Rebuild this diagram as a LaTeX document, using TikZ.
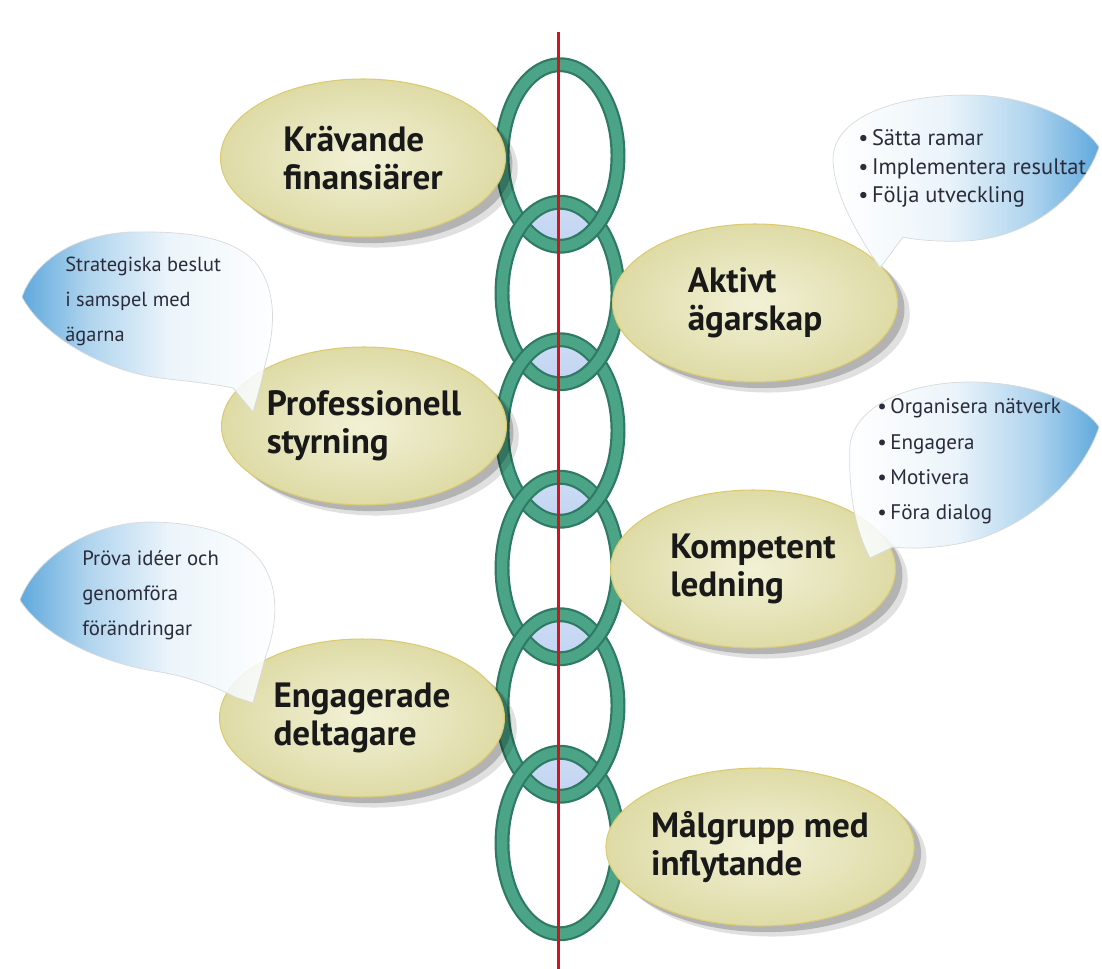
\documentclass[tikz,border=0pt]{standalone}
\usepackage{fontspec}
\setmainfont{PT Sans}
\usetikzlibrary{shapes.geometric,shadows}

\definecolor{ringgreen}{HTML}{4CA487}
\definecolor{ringdark}{HTML}{2E7A64}
\definecolor{chainred}{HTML}{D2141C}
\definecolor{lensblue}{HTML}{9BB9EA}
\definecolor{bubbleblue}{HTML}{4A9DD8}
\definecolor{pillowin}{HTML}{F2F1D6}
\definecolor{pillowout}{HTML}{DEDBA6}
\definecolor{pillowrim}{HTML}{DCCB6E}
\definecolor{notegray}{HTML}{2B2C3A}

\pgfdeclarehorizontalshading{bubbleleft}{100bp}{color(0bp)=(bubbleblue); color(25bp)=(bubbleblue); color(38bp)=(bubbleblue!50!white); color(54bp)=(bubbleblue!12!white); color(75bp)=(white); color(100bp)=(white)}
\pgfdeclarehorizontalshading{bubbleright}{100bp}{color(0bp)=(white); color(25bp)=(white); color(46bp)=(bubbleblue!12!white); color(62bp)=(bubbleblue!50!white); color(75bp)=(bubbleblue); color(100bp)=(bubbleblue)}

\tikzset{
	ringline/.style={line width=8.5pt, draw=ringdark},
	ringfill/.style={line width=6pt, draw=ringgreen},
	redline/.style={line width=1.7pt, draw=chainred},
	pillow/.style={ellipse, inner sep=0pt, minimum width=5.7cm, minimum height=3.16cm,
		inner color=pillowin, outer color=pillowout, draw=pillowrim, line width=.6pt,
		font=\fontsize{20}{21.5}\selectfont\bfseries, text=black!90, align=left,
		drop shadow={shadow xshift=7pt, shadow yshift=-6pt, opacity=.12, fill=black},
		drop shadow={shadow xshift=4pt, shadow yshift=-3.5pt, opacity=.2, fill=black}},
	bubble/.style={draw=black!15, line width=.4pt, fill opacity=.88},
	notetext/.style={anchor=base west, inner sep=0pt, text=notegray, font=\fontsize{12}{14}\selectfont}
}

\begin{document}
\begin{tikzpicture}[x=.02cm, y=-.02cm]
	\useasboundingbox (0,0) rectangle (1102,969);

	% lenses between the links
	\foreach \i in {0, 1, 2, 3, 4}
	{
		\pgfmathsetmacro\ya{155.5+137.5*\i}
		\pgfmathsetmacro\yb{\ya+137.5}
		\begin{scope}
			\clip (560,\ya) ellipse [x radius=1.16cm, y radius=1.815cm];
			\shade[top color=lensblue!50!white, bottom color=lensblue] (560,\yb) ellipse [x radius=1.16cm, y radius=1.815cm];
		\end{scope}
	}

	% chain
	\foreach \i in {0, 1, 2, 3, 4, 5}
	{
		\pgfmathsetmacro\yc{155.5+137.5*\i}
		\draw[ringline] (560,\yc) ellipse [x radius=1.16cm, y radius=1.815cm];
		\draw[ringfill] (560,\yc) ellipse [x radius=1.16cm, y radius=1.815cm];
	}
	\foreach \i in {0, 1, 2, 3, 4}
	{
		\pgfmathsetmacro\yc{155.5+137.5*\i}
		\draw[ringline] (560,\yc) ++(-75:1.16cm and 1.815cm) arc [start angle=-75, end angle=-25, x radius=1.16cm, y radius=1.815cm];
		\draw[ringfill] (560,\yc) ++(-76:1.16cm and 1.815cm) arc [start angle=-76, end angle=-24, x radius=1.16cm, y radius=1.815cm];
	}

	\coordinate (redtop) at (558.5,32);
	\coordinate (redbot) at (558.5,969);
	\draw[redline] (redtop) -- (redbot);

	% links
	\node[pillow] (kravande) at (363,158) {Krävande\\finansiärer};
	\node[pillow] (aktivt) at (755,303) {Aktivt\\ägarskap};
	\node[pillow] (professionell) at (364,426) {Professionell\\styrning};
	\node[pillow] (kompetent) at (753,569) {Kompetent\\ledning};
	\node[pillow] (engagerade) at (362,718) {Engagerade\\deltagare};
	\node[pillow, minimum width=5.76cm] (malgrupp) at (760,847) {Målgrupp med\\inflytande};

	% speech bubbles
	\shade[bubble, shading=bubbleright] (880,268) .. controls (860,238) and (833,195) .. (833,158)
		.. controls (835,115) and (900,95) .. (968,95) .. controls (1035,95) and (1085,125) .. (1099,147)
		.. controls (1085,190) and (1035,238) .. (965,241) .. controls (940,242) and (915,240) .. (903,237) -- cycle;
	\shade[bubble, shading=bubbleleft] (253,412) .. controls (258,395) and (262,380) .. (265,365)
		.. controls (275,330) and (278,290) .. (255,262) .. controls (230,235) and (180,231) .. (130,232)
		.. controls (75,235) and (35,260) .. (22,297) .. controls (45,340) and (110,372) .. (160,378)
		.. controls (195,382) and (220,385) .. (233,388) -- cycle;
	\shade[bubble, shading=bubbleright] (870,558) .. controls (855,530) and (848,490) .. (850,445)
		.. controls (855,405) and (910,382) .. (970,382) .. controls (1035,382) and (1085,405) .. (1099,427)
		.. controls (1085,470) and (1040,520) .. (975,540) .. controls (940,549) and (912,549) .. (893,547) -- cycle;
	\shade[bubble, shading=bubbleleft] (253,703) .. controls (258,685) and (262,670) .. (266,655)
		.. controls (277,625) and (280,590) .. (262,563) .. controls (240,532) and (195,522) .. (147,522)
		.. controls (85,524) and (35,560) .. (20,600) .. controls (45,640) and (110,665) .. (160,672)
		.. controls (195,678) and (222,690) .. (235,697) -- cycle;

	\foreach \txt [count=\k] in {Sätta ramar, Implementera resultat, Följa utveckling}
		\node[notetext, font=\fontsize{12.8}{14}\selectfont] (ramar\k) at (858,117.5+28.5*\k) {\textbullet\hspace{2pt}\txt};
	\foreach \txt [count=\k] in {Strategiska beslut, i samspel med, ägarna}
		\node[notetext, font=\fontsize{11.6}{14}\selectfont] (beslut\k) at (65,237+35*\k) {\txt};
	\foreach \txt [count=\k] in {Organisera nätverk, Engagera, Motivera, Föra dialog}
		\node[notetext] (natverk\k) at (877,379+35*\k) {\textbullet\hspace{2pt}\txt};
	\foreach \txt [count=\k] in {Pröva idéer och, genomföra, förändringar}
		\node[notetext, font=\fontsize{11.8}{14}\selectfont] (ideer\k) at (82,530+35*\k) {\txt};
\end{tikzpicture}
\end{document}
